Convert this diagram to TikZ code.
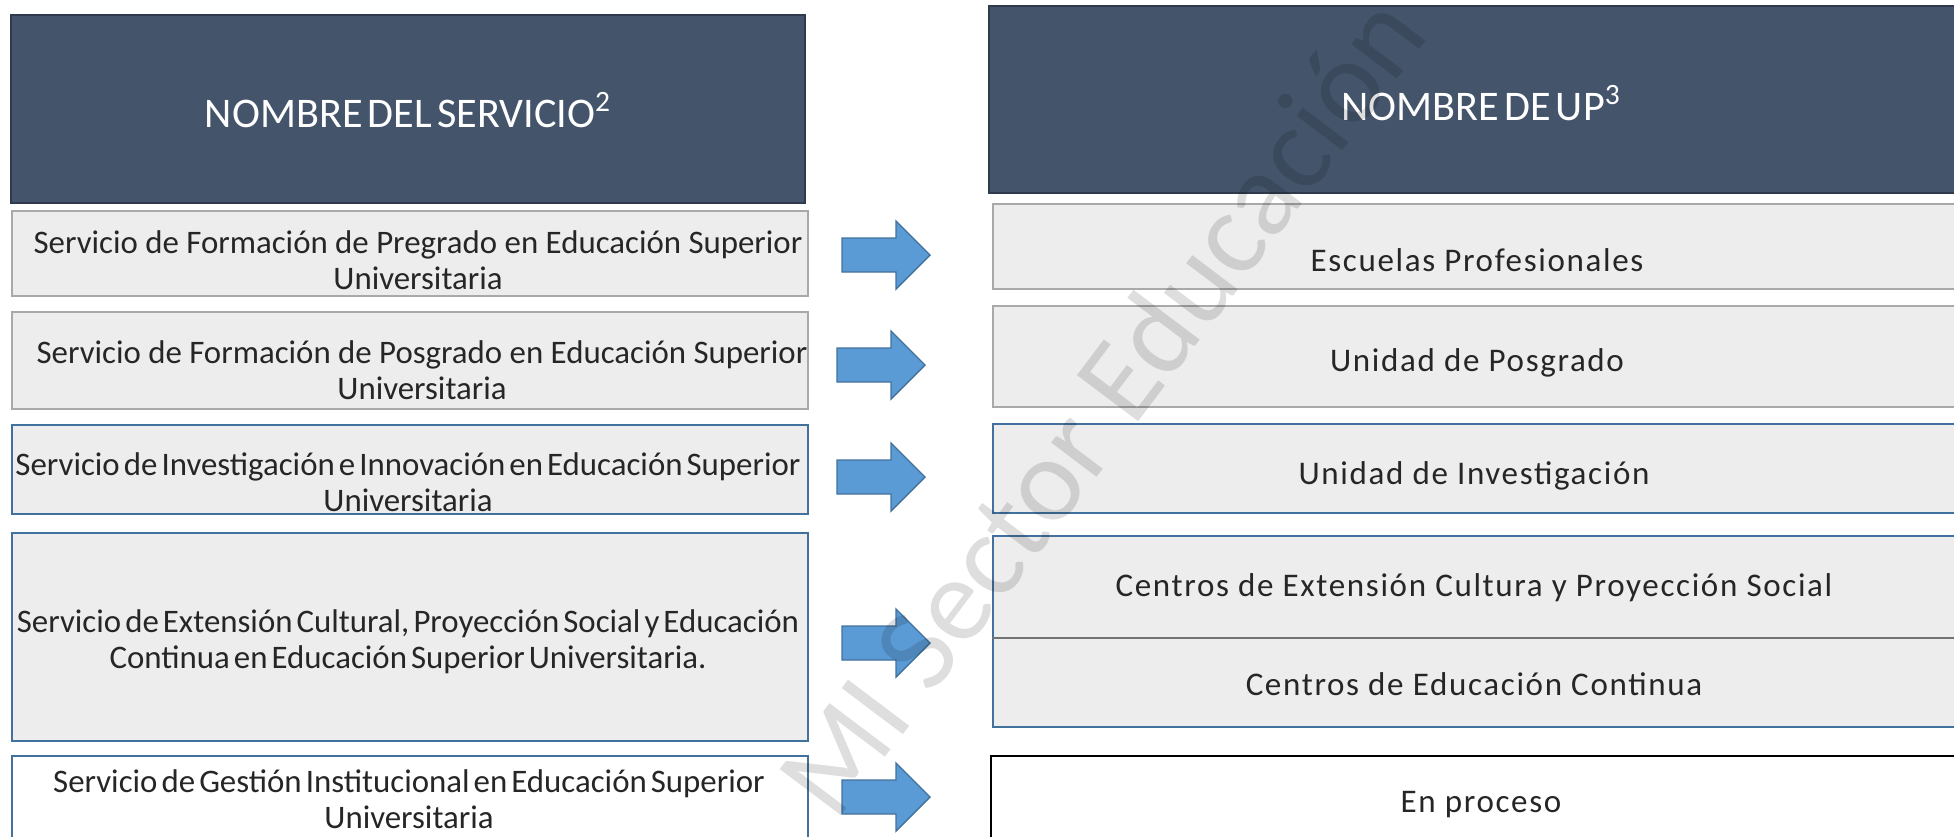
\documentclass[tikz,border=0pt]{standalone}
\usepackage{fontspec}
\setmainfont{Carlito}
\newfontfamily\svcfont[WordSpace=0.55]{Carlito}
\newfontfamily\upfont[LetterSpace=5]{Carlito}

\definecolor{headfill}{HTML}{44546A}
\definecolor{headline}{HTML}{2F3B4C}
\definecolor{boxfill}{HTML}{EDEDED}
\definecolor{greyline}{HTML}{A9A9A9}
\definecolor{blueline}{HTML}{41719C}
\definecolor{arrowfill}{HTML}{5B9BD5}
\definecolor{inktext}{HTML}{262626}

\begin{document}
\begin{tikzpicture}[x=0.02cm,y=-0.02cm,
  headbox/.style={draw=headline,fill=headfill,line width=1pt,inner sep=0pt},
  headtext/.style={anchor=base,text=white,font=\svcfont\fontsize{24}{28}\selectfont},
  greybox/.style={draw=greyline,fill=boxfill,line width=0.9pt,inner sep=0pt},
  bluebox/.style={draw=blueline,fill=boxfill,line width=0.9pt,inner sep=0pt},
  svctext/.style={anchor=base,text=inktext,text width=20cm,align=flush center,
    font=\svcfont\fontsize{18.7}{21}\selectfont},
  widesvc/.style={svctext,font=\rmfamily\fontsize{18.7}{21}\selectfont},
  uptext/.style={anchor=base,text=inktext,font=\upfont\fontsize{18.8}{22}\selectfont},
  bluearrow/.style={draw=blueline,fill=arrowfill,line width=0.8pt,line join=miter}]
\useasboundingbox (0,0) rectangle (1954,836);
\clip (0,0) rectangle (1954,836);

% column headers
\node[headbox, minimum width=15.88cm, minimum height=3.76cm] (h0) at (408,109) {};
\node[headtext] (h0txt) at (408,127) {NOMBRE DEL SERVICIO\textsuperscript{2}};
\node[headbox, minimum width=19.46cm, minimum height=3.74cm] (u0) at (1475.5,99.5) {};
\node[headtext] (u0txt) at (1481,120) {NOMBRE DE UP\textsuperscript{3}};

% services, left column
\node[greybox, minimum width=15.92cm, minimum height=1.70cm] (s1) at (410,253.5) {};
\node[greybox, minimum width=15.92cm, minimum height=1.94cm] (s2) at (410,360.5) {};
\node[bluebox, minimum width=15.92cm, minimum height=1.78cm] (s3) at (410,469.5) {};
\node[bluebox, minimum width=15.92cm, minimum height=4.16cm] (s4) at (410,637) {};
\node[bluebox, fill=white, minimum width=15.92cm, minimum height=1.88cm] (s5) at (410,803) {};

\node[widesvc] (s1txt) at (418,253) {Servicio de Formación de Pregrado en Educación Superior\\Universitaria};
\node[widesvc] (s2txt) at (422,363) {Servicio de Formación de Posgrado en Educación Superior\\Universitaria};
\node[svctext] (s3txt) at (408,475) {Servicio de Investigación e Innovación en Educación Superior\\Universitaria};
\node[svctext] (s4txt) at (408,632) {Servicio de Extensión Cultural, Proyección Social y Educación\\Continua en Educación Superior Universitaria.};
\node[svctext] (s5txt) at (409,792) {Servicio de Gestión Institucional en Educación Superior\\Universitaria};

% units, right column
\node[greybox, minimum width=19.38cm, minimum height=1.70cm] (u1) at (1477.5,246.5) {};
\node[greybox, minimum width=19.38cm, minimum height=2.02cm] (u2) at (1477.5,356.5) {};
\node[bluebox, minimum width=19.38cm, minimum height=1.78cm] (u3) at (1477.5,468.5) {};
\node[bluebox, minimum width=19.38cm, minimum height=3.82cm] (u4) at (1477.5,631.5) {};
\draw[black!55, line width=0.9pt] (u4.west |- 0,638) -- (u4.east |- 0,638);
\node[draw=black, fill=white, line width=1.5pt, inner sep=0pt, minimum width=19.42cm, minimum height=1.88cm] (u5) at (1476.5,803) {};

\node[uptext] (u1txt) at (1477,271) {Escuelas Profesionales};
\node[uptext] (u2txt) at (1477,371) {Unidad de Posgrado};
\node[uptext] (u3txt) at (1474,484) {Unidad de Investigación};
\node[uptext] (u4txt) at (1474,596) {Centros de Extensión Cultura y Proyección Social};
\node[uptext] (u4btxt) at (1474,695) {Centros de Educación Continua};
\node[uptext] (u5txt) at (1481,812) {En proceso};

% block arrows between the columns
\foreach \x/\y in {842/255, 837/365, 837/477, 842/643, 842/797}
  \draw[bluearrow] (\x,\y) ++(0,-17) -- ++(54,0) -- ++(0,-17) -- ++(34,34)
    -- ++(-34,34) -- ++(0,-17) -- ++(-54,0) -- cycle;

% watermark
\node[rotate=53, text=black, text opacity=0.13, font=\fontsize{68}{70}\selectfont] (mark) at (1100,405) {MI Sector Educación};

\end{tikzpicture}
\end{document}
